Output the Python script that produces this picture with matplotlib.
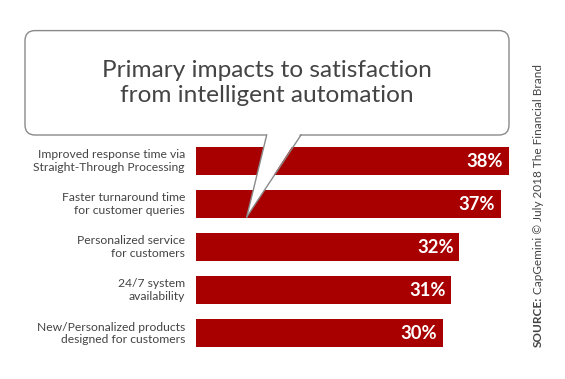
import matplotlib
matplotlib.use("Agg")
import matplotlib.pyplot as plt
from matplotlib.patches import FancyBboxPatch, Polygon
from matplotlib.lines import Line2D

categories = [
    "Improved response time via\nStraight-Through Processing",
    "Faster turnaround time\nfor customer queries",
    "Personalized service\nfor customers",
    "24/7 system\navailability",
    "New/Personalized products\ndesigned for customers",
]
values = [38, 37, 32, 31, 30]
value_labels = ["38%", "37%", "32%", "31%", "30%"]
title_lines = "Primary impacts to satisfaction\nfrom intelligent automation"
source_bold = "SOURCE:"
source_rest = " CapGemini \u00a9 July 2018 The Financial Brand"

W, H = 565, 379
fig = plt.figure(figsize=(W / 100, H / 100), dpi=100)
fig.patch.set_facecolor("white")

BAR = "#a80000"
TXT = "#444444"

# bar axes: x=0 at pixel 196, 8.23 px per percent
x0 = 196
xmax = 40
pxper = 8.23
top_px, bot_px = 139.5, 354.7
ax = fig.add_axes([x0 / W, 1 - bot_px / H, xmax * pxper / W, (bot_px - top_px) / H])
ypos = list(range(len(categories)))
ax.barh(ypos, values, height=0.66, color=BAR, edgecolor="none")
ax.set_xlim(0, xmax)
ax.set_ylim(len(categories) - 0.5, -0.5)
ax.axis("off")

for y, v, lab in zip(ypos, values, value_labels):
    ax.annotate(lab, xy=(v, y), xytext=(-4, 0), textcoords="offset points",
                ha="right", va="center", color="white", fontsize=13.2,
                fontweight="bold", family="Lato")
for y, c in zip(ypos, categories):
    ax.annotate(c, xy=(0, y), xytext=(-8, 0), textcoords="offset points",
                ha="right", va="center", color=TXT, fontsize=8.7,
                family="Lato", linespacing=1.15)

# overlay for speech bubble
ov = fig.add_axes([0, 0, 1, 1], zorder=5)
ov.set_xlim(0, W)
ov.set_ylim(H, 0)
ov.axis("off")
ov.patch.set_alpha(0)

EDGE = "#8a8a8a"
bx0, bx1, by0, by1 = 25, 509, 30.6, 135
bub = FancyBboxPatch((bx0, by0), bx1 - bx0, by1 - by0,
                     boxstyle="round,pad=0,rounding_size=10",
                     facecolor="white", edgecolor=EDGE, linewidth=1.0)
ov.add_patch(bub)
tl, tr, tip = (266.7, by1), (301, by1), (246.7, 217)
ov.add_patch(Polygon([(tl[0] + 0.5, by1 - 1.5), (tr[0] - 0.5, by1 - 1.5), tip],
                     closed=True, facecolor="white", edgecolor="none"))
ov.add_line(Line2D([tl[0], tip[0]], [tl[1], tip[1]], color=EDGE, lw=1.0))
ov.add_line(Line2D([tr[0], tip[0]], [tr[1], tip[1]], color=EDGE, lw=1.0))

ov.text(266.7, 83, title_lines, ha="center", va="center", fontsize=17.6,
        color=TXT, family="Lato", fontweight="normal", linespacing=1.18)

# source text, rotated
t1 = ov.text(538, 347, source_bold, rotation=90, ha="center", va="bottom",
             fontsize=8.45, fontweight="bold", color=TXT, family="Lato")
fig.canvas.draw()
bb = t1.get_window_extent(fig.canvas.get_renderer())
ytop_px = H - bb.y1
ov.text(538, ytop_px, source_rest, rotation=90, ha="center", va="bottom",
        fontsize=8.45, color=TXT, family="Lato")

fig.savefig("out.png", dpi=100, facecolor="white")
